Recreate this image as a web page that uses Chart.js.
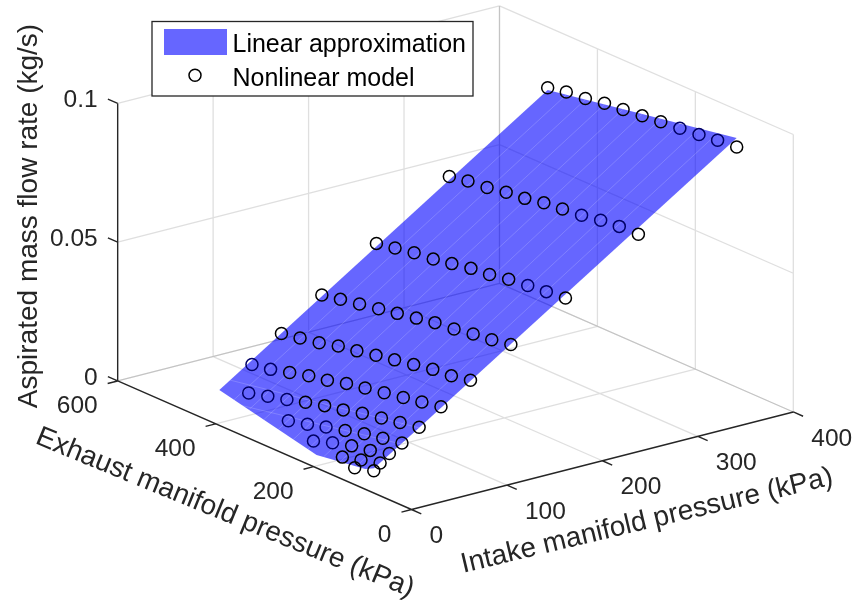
<!DOCTYPE html>
<html>
<head>
<meta charset="utf-8">
<title>Aspirated mass flow rate</title>
<style>
  html, body { margin: 0; padding: 0; background: #fff; }
  #chart { display: block; }
</style>
<script src="https://cdn.jsdelivr.net/npm/chart.js@4"></script>
</head>
<body>
<canvas id="chart" width="857" height="604"></canvas>
<script>
const intakeTicks = [0, 100, 200, 300, 400];
const exhaustTicks = [0, 200, 400, 600];
const flowTicks = [0, 0.05, 0.1];

// Measured model: one exhaust value per column, one intake value per row
const exhaustKpa = [100, 139, 177, 216, 255, 293, 332, 370, 409, 448, 486];
const intakeKpa = [392, 289, 212.6, 155.4, 113.1, 82.2, 59.3, 41.3, 28.1, 18.4, 11.8];
const flowRows = [
  [0.0885, 0.0879, 0.087, 0.0863, 0.0856, 0.0848, 0.0841, 0.0834, 0.0821, 0.0814, 0.08],
  [0.0661, 0.0659, 0.0652, 0.064, 0.0632, 0.0625, 0.0611, 0.0604, 0.0591, 0.0584, 0.0571],
  [0.0498, 0.0491, 0.0484, 0.0476, 0.0463, 0.0456, 0.0443, 0.043, 0.0423, 0.041, 0.0397],
  [0.0381, 0.0368, 0.0359, 0.0347, 0.034, 0.0327, 0.0314, 0.0301, 0.0288, 0.0275, 0.0261],
  [0.0289, 0.0275, 0.0269, 0.0256, 0.0243, 0.023, 0.0216, 0.0204, 0.0186, 0.0173, 0.016],
  [0.0221, 0.0208, 0.0195, 0.0182, 0.0169, 0.0156, 0.0137, 0.0124, 0.0106, 0.0087, 0.0075],
  [0.0167, 0.0154, 0.0141, 0.0128, 0.011, 0.0096, 0.0078, 0.0059, 0.004, 0.0022],
  [0.0126, 0.0113, 0.01, 0.0082, 0.0064, 0.0045, 0.0027],
  [0.01, 0.0081, 0.0068, 0.0049, 0.0025],
  [0.0074, 0.0055, 0.0036],
  [0.0052, 0.0033],
];
// Columns of each row that sit under the surface
const behindSurface = [[1, 2, 3], [1, 2, 3], [1, 2], [], [], [9, 10], [7, 8, 9], [4, 5, 6], [3, 4], [], []];

// Surface outline as [intake, exhaust, flow]
const surfaceOutline = [
  [392, 486, 0.0792],
  [392, 100, 0.0917],
  [59.3, 100, 0.0165],
  [12, 100, 0.0061],
  [12, 118, 0.0044],
  [19.6, 232, 0],
  [48, 486, 0.0013],
];
// Surface mesh edges as [intake, exhaust, flow, intake, exhaust, flow]
const meshEdges = [
  [392, 139, 0.0904, 13.4, 139, 0.0036],
  [392, 177, 0.0892, 15.9, 177, 0.0021],
  [392, 216, 0.0879, 18.5, 216, 0.0006],
  [392, 255, 0.0867, 22.2, 255, 0.0001],
  [392, 293, 0.0854, 26.4, 293, 0.0003],
  [392, 332, 0.0842, 30.8, 332, 0.0005],
  [392, 370, 0.083, 35, 370, 0.0007],
  [392, 409, 0.0817, 39.4, 409, 0.0009],
  [392, 448, 0.0804, 43.8, 448, 0.0011],
  [59.3, 100, 0.0165, 59.3, 486, 0.0039],
  [41.3, 100, 0.0122, 41.3, 426, 0.0009],
];

const axisColor = "#262626";
const gridColor = "rgba(38, 38, 38, 0.15)";
const fontName = '"Liberation Sans", Arial, sans-serif';

// Orthographic view of the 3D box, in page pixels
function project(intake, exhaust, flow) {
  return {
    x: 411.5 + 0.9545 * intake - 0.4897 * exhaust,
    y: 509.5 - 0.2438 * intake - 0.2142 * exhaust - 2775 * flow,
  };
}

function segments(list) {
  const points = [];
  list.forEach(([a, b]) => {
    points.push(project(...a), project(...b), { x: NaN, y: NaN });
  });
  return points;
}

function lineDataset(data, color, width, order) {
  return {
    data,
    order,
    showLine: true,
    spanGaps: false,
    borderColor: color,
    borderWidth: width,
    pointRadius: 0,
    clip: false,
  };
}

const intakeMax = 400;
const exhaustMax = 600;
const flowMax = 0.1;

const floorLines = [
  ...exhaustTicks.slice(1).map((e) => [[0, e, 0], [intakeMax, e, 0]]),
  ...intakeTicks.slice(1).map((i) => [[i, 0, 0], [i, exhaustMax, 0]]),
];
const intakeWallLines = [
  ...flowTicks.map((f) => [[0, exhaustMax, f], [intakeMax, exhaustMax, f]]),
  ...intakeTicks.slice(1).map((i) => [[i, exhaustMax, 0], [i, exhaustMax, flowMax]]),
];
const exhaustWallLines = [
  ...flowTicks.map((f) => [[intakeMax, 0, f], [intakeMax, exhaustMax, f]]),
  ...exhaustTicks.map((e) => [[intakeMax, e, 0], [intakeMax, e, flowMax]]),
];
const axisLines = [
  [[0, exhaustMax, 0], [0, exhaustMax, flowMax]],
  [[0, 0, 0], [0, exhaustMax, 0]],
  [[0, 0, 0], [intakeMax, 0, 0]],
  ...flowTicks.map((f) => [[0, exhaustMax, f], [0, exhaustMax + 20, f]]),
  ...exhaustTicks.map((e) => [[0, e, 0], [-10.5, e, 0]]),
  ...intakeTicks.map((i) => [[i, 0, 0], [i, -20, 0]]),
];

const modelPoints = [];
const modelColors = [];
flowRows.forEach((row, r) => {
  row.forEach((flow, c) => {
    modelPoints.push(project(intakeKpa[r], exhaustKpa[c], flow));
    modelColors.push(behindSurface[r].includes(c) ? "#000066" : "#000000");
  });
});

const surfaceDataset = lineDataset(
  surfaceOutline.map((p) => project(...p)),
  "rgba(0, 0, 0, 0)",
  0,
  5
);
surfaceDataset.label = "Linear approximation";
surfaceDataset.fill = "shape";
surfaceDataset.backgroundColor = "rgba(0, 0, 255, 0.6)";

const axesText = {
  id: "axesText",
  afterDatasetsDraw(chart) {
    const { ctx, scales } = chart;
    const toPage = (p) => ({ x: scales.x.getPixelForValue(p.x), y: scales.y.getPixelForValue(p.y) });

    ctx.save();
    ctx.fillStyle = axisColor;
    ctx.font = `24.5px ${fontName}`;
    ctx.textBaseline = "middle";

    ctx.textAlign = "right";
    flowTicks.forEach((f) => {
      const p = toPage(project(0, exhaustMax, f));
      ctx.fillText(String(f), p.x - 20, p.y - 3);
    });
    exhaustTicks.forEach((e) => {
      const p = toPage(project(0, e, 0));
      ctx.fillText(String(e), p.x - 20, p.y + 25.5);
    });
    ctx.textAlign = "left";
    intakeTicks.forEach((i) => {
      const p = toPage(project(i, 0, 0));
      ctx.fillText(String(i), p.x + 18, p.y + 27);
    });

    const labels = [
      ["Aspirated mass flow rate (kg/s)", 29, 216, -90],
      ["Exhaust manifold pressure (kPa)", 225, 513, 22.3],
      ["Intake manifold pressure (kPa)", 647, 521, -13.4],
    ];
    ctx.font = `28px ${fontName}`;
    ctx.textAlign = "center";
    labels.forEach(([text, x, y, angle]) => {
      ctx.save();
      ctx.translate(x, y);
      ctx.rotate((angle * Math.PI) / 180);
      ctx.fillText(text, 0, 0);
      ctx.restore();
    });

    // Legend box sits on top of the grid
    ctx.fillStyle = "#ffffff";
    ctx.strokeStyle = axisColor;
    ctx.lineWidth = 1.3;
    ctx.fillRect(152, 21.5, 321, 74.5);
    ctx.strokeRect(152, 21.5, 321, 74.5);
    ctx.fillStyle = "#6666ff";
    ctx.fillRect(164, 29, 63, 26);
    ctx.beginPath();
    ctx.arc(195, 75.3, 6, 0, Math.PI * 2);
    ctx.strokeStyle = "#000000";
    ctx.lineWidth = 1.5;
    ctx.stroke();
    ctx.fillStyle = "#000000";
    ctx.font = `25px ${fontName}`;
    ctx.textAlign = "left";
    ctx.fillText("Linear approximation", 232.5, 45);
    ctx.fillText("Nonlinear model", 232.5, 79);
    ctx.restore();
  },
};

new Chart(document.getElementById("chart"), {
  type: "scatter",
  data: {
    datasets: [
      {
        label: "Nonlinear model",
        data: modelPoints,
        order: 1,
        showLine: false,
        pointStyle: "circle",
        pointRadius: 6,
        pointBorderWidth: 1.5,
        pointBorderColor: modelColors,
        pointBackgroundColor: "rgba(0, 0, 0, 0)",
        clip: false,
      },
      lineDataset(
        meshEdges.flatMap((e) => [project(e[0], e[1], e[2]), project(e[3], e[4], e[5]), { x: NaN, y: NaN }]),
        "rgba(255, 255, 255, 0.22)",
        0.8,
        4
      ),
      surfaceDataset,
      lineDataset(segments(axisLines), axisColor, 1.4, 6),
      lineDataset(segments(floorLines), gridColor, 1.3, 7),
      lineDataset(segments(intakeWallLines), gridColor, 1.3, 8),
      lineDataset(segments(exhaustWallLines), gridColor, 1.3, 9),
    ],
  },
  options: {
    responsive: false,
    animation: false,
    layout: { autoPadding: false, padding: 0 },
    plugins: {
      legend: { display: false },
      tooltip: { enabled: false },
    },
    scales: {
      x: { type: "linear", display: false, min: 0, max: 857 },
      y: { type: "linear", display: false, min: 0, max: 604, reverse: true },
    },
  },
  plugins: [axesText],
});
</script>
</body>
</html>
